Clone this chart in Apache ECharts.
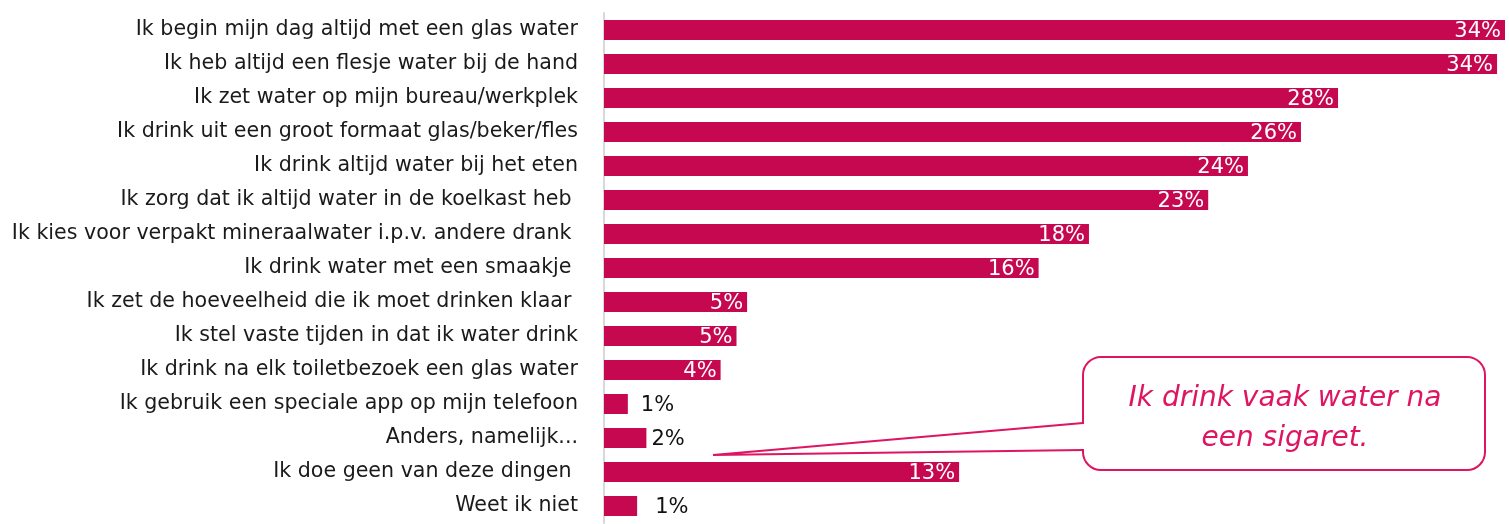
<!DOCTYPE html>
<html>
<head>
<meta charset="utf-8">
<script src="https://cdn.jsdelivr.net/npm/echarts@6/dist/echarts.min.js"></script>
<style>
  html, body { margin: 0; padding: 0; background: #fff; }
  #main { width: 1509px; height: 524px; }
</style>
</head>
<body>
<div id="main"></div>
<script>
// categorieën, van boven naar beneden
var categories = [
  'Ik begin mijn dag altijd met een glas water',
  'Ik heb altijd een flesje water bij de hand',
  'Ik zet water op mijn bureau/werkplek',
  'Ik drink uit een groot formaat glas/beker/fles',
  'Ik drink altijd water bij het eten',
  'Ik zorg dat ik altijd water in de koelkast heb ',
  'Ik kies voor verpakt mineraalwater i.p.v. andere drank ',
  'Ik drink water met een smaakje ',
  'Ik zet de hoeveelheid die ik moet drinken klaar ',
  'Ik stel vaste tijden in dat ik water drink',
  'Ik drink na elk toiletbezoek een glas water',
  'Ik gebruik een speciale app op mijn telefoon',
  'Anders, namelijk...',
  'Ik doe geen van deze dingen ',
  'Weet ik niet'
];
// percentages (geschat uit de balklengte)
var values = [34.0, 33.7, 27.7, 26.3, 24.3, 22.8, 18.3, 16.4, 5.4, 5.0, 4.4, 0.9, 1.6, 13.4, 1.25];
// getoonde labels
var labels = ['34%', '34%', '28%', '26%', '24%', '23%', '18%', '16%', '5%', '5%', '4%', '1%', '2%', '13%', '1%'];

var chart = echarts.init(document.getElementById('main'));

// afstand van de labels buiten de balk
var outsideGap = { 11: 13, 12: 5, 14: 18 };

var data = values.map(function (v, i) {
  var small = v < 3;
  return {
    value: v,
    label: small ? {
      position: 'right',
      color: '#111',
      distance: outsideGap[i]
    } : {
      position: 'insideRight',
      color: '#fff',
      distance: 4
    }
  };
});

var pink = '#de1560';

var option = {
  backgroundColor: '#fff',
  animation: false,
  grid: { left: 604, right: 4, top: 13, bottom: 1, containLabel: false },
  xAxis: {
    type: 'value',
    min: 0,
    max: 34,
    show: false
  },
  yAxis: {
    type: 'category',
    data: categories,
    inverse: true,
    axisLine: { lineStyle: { color: '#d8d8d8', width: 2 } },
    axisTick: { length: 8, lineStyle: { color: '#cfcfcf', width: 2 } },
    axisLabel: {
      color: '#1a1a1a',
      fontFamily: 'DejaVu Sans',
      fontSize: 20.6,
      margin: 26,
      padding: [4, 0, 0, 0]
    }
  },
  series: [{
    type: 'bar',
    data: data,
    barWidth: 20,
    itemStyle: { color: '#c5084f' },
    label: {
      show: true,
      fontFamily: 'DejaVu Sans',
      fontSize: 21,
      offset: [0, 2],
      formatter: function (p) { return labels[p.dataIndex]; }
    }
  }],
  graphic: [
    {
      type: 'rect',
      shape: { x: 1083, y: 357, width: 402, height: 113, r: 18 },
      style: { fill: '#fff', stroke: pink, lineWidth: 2 },
      z: 100
    },
    {
      type: 'rect',
      shape: { x: 1081, y: 424, width: 5, height: 25 },
      style: { fill: '#fff' },
      z: 101
    },
    {
      type: 'polyline',
      shape: { points: [[1083, 423], [713, 455], [1083, 450]] },
      style: { stroke: pink, lineWidth: 2, fill: null },
      z: 102
    },
    {
      type: 'text',
      x: 1285,
      y: 379,
      z: 103,
      style: {
        text: 'Ik drink vaak water na\neen sigaret.',
        align: 'center',
        verticalAlign: 'top',
        fill: pink,
        fontFamily: 'DejaVu Sans',
        fontStyle: 'italic',
        fontSize: 28,
        lineHeight: 40
      }
    }
  ]
};

chart.setOption(option);
</script>
</body>
</html>
